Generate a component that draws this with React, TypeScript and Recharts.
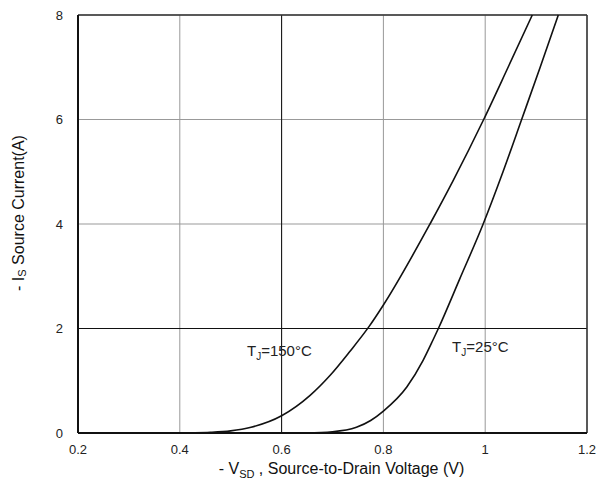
import {
  LineChart,
  Line,
  XAxis,
  YAxis,
  CartesianGrid,
  ReferenceLine,
  ReferenceDot,
  Label,
} from 'recharts';

// -Is vs -Vsd
const v150 = [0.40, 0.43, 0.46, 0.50, 0.54, 0.60, 0.656, 0.695, 0.734, 0.772, 0.80, 0.8915, 0.937, 0.997, 1.045, 1.0925];
const i150 = [0, 0.003, 0.012, 0.04, 0.11, 0.33, 0.72, 1.1, 1.56, 2.04, 2.45, 4.0, 4.83, 6.0, 7.0, 8.0];

const v25 = [0.60, 0.65, 0.70, 0.747, 0.775, 0.80, 0.846, 0.878, 0.897, 0.908, 0.95, 0.996, 1.035, 1.0716, 1.108, 1.1436];
const i25 = [0, 0.004, 0.025, 0.11, 0.24, 0.42, 0.88, 1.39, 1.77, 2.0, 2.95, 4.0, 5.0, 6.0, 7.0, 8.0];

const xTicks = [0.2, 0.4, 0.6, 0.8, 1.0, 1.2];
const yTicks = [0, 2, 4, 6, 8];

const data150 = v150.map((v, i) => ({ v, i: i150[i] }));
const data25 = v25.map((v, i) => ({ v, i: i25[i] }));

const FONT = '"Liberation Sans", Arial, sans-serif';

const tempLabel = (temp: string) => (props: any) => {
  const { x, y } = props.viewBox;
  return (
    <text x={x} y={y} fontSize={15} fill="#222" fontFamily={FONT}>
      T
      <tspan dy={4} fontSize={10}>J</tspan>
      <tspan dy={-4}>={temp}°C</tspan>
    </text>
  );
};

const App = () => {
  return (
    <div style={{ position: 'absolute', left: 0, top: 0, background: '#fff', fontFamily: FONT }}>
      <LineChart width={597} height={488} margin={{ top: 15, right: 10, left: 0, bottom: 0 }}>
        <CartesianGrid stroke="#999" strokeWidth={1} />
        <XAxis
          type="number"
          dataKey="v"
          domain={[0.2, 1.2]}
          ticks={xTicks}
          allowDataOverflow
          height={55}
          tickLine={false}
          tickMargin={6}
          axisLine={{ stroke: '#111', strokeWidth: 2 }}
          tick={{ fontSize: 13, fill: '#222', fontFamily: FONT }}
          tickFormatter={(t: number) => (t === 1 ? '1' : String(t))}
        >
          <Label
            content={(props: any) => {
              const { x, y, width } = props.viewBox;
              return (
                <text x={x + width / 2 + 9} y={y + 41} textAnchor="middle" fontSize={16} fill="#111" fontFamily={FONT}>
                  - V
                  <tspan dy={4} fontSize={11}>SD</tspan>
                  <tspan dy={-4}> , Source-to-Drain Voltage (V)</tspan>
                </text>
              );
            }}
          />
        </XAxis>
        <YAxis
          type="number"
          domain={[0, 8]}
          ticks={yTicks}
          width={78}
          tickLine={false}
          tickMargin={9}
          axisLine={{ stroke: '#111', strokeWidth: 2 }}
          tick={{ fontSize: 13, fill: '#222', fontFamily: FONT }}
        >
          <Label
            content={(props: any) => {
              const { x, y, height } = props.viewBox;
              const cx = x + 18;
              const cy = y + height / 2 - 11;
              return (
                <text
                  x={cx}
                  y={cy}
                  textAnchor="middle"
                  dominantBaseline="central"
                  transform={`rotate(-90, ${cx}, ${cy})`}
                  fontSize={16}
                  fill="#111"
                  fontFamily={FONT}
                >
                  - I
                  <tspan dy={4} fontSize={11}>S</tspan>
                  <tspan dy={-4}> Source Current(A)</tspan>
                </text>
              );
            }}
          />
        </YAxis>
        <ReferenceLine x={0.6} stroke="#111" strokeWidth={1} />
        <ReferenceLine y={2} stroke="#111" strokeWidth={1.2} />
        <ReferenceLine x={1.2} stroke="#333" strokeWidth={1.5} />
        <ReferenceLine y={8} stroke="#333" strokeWidth={1.5} />
        <ReferenceDot x={0.532} y={1.48} r={0} stroke="none" fill="none">
          <Label content={tempLabel('150')} />
        </ReferenceDot>
        <ReferenceDot x={0.935} y={1.55} r={0} stroke="none" fill="none">
          <Label content={tempLabel('25')} />
        </ReferenceDot>
        <Line
          data={data150}
          dataKey="i"
          type="monotone"
          stroke="#111"
          strokeWidth={1.6}
          dot={false}
          isAnimationActive={false}
        />
        <Line
          data={data25}
          dataKey="i"
          type="monotone"
          stroke="#111"
          strokeWidth={1.6}
          dot={false}
          isAnimationActive={false}
        />
      </LineChart>
    </div>
  );
};

export default App;
